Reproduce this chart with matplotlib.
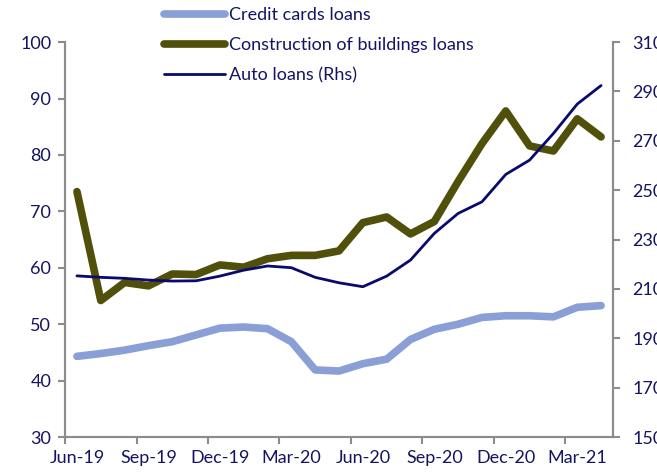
import matplotlib
matplotlib.use("Agg")
import matplotlib.pyplot as plt
import numpy as np

months = ["Jun-19", "Jul-19", "Aug-19", "Sep-19", "Oct-19", "Nov-19", "Dec-19",
          "Jan-20", "Feb-20", "Mar-20", "Apr-20", "May-20", "Jun-20", "Jul-20",
          "Aug-20", "Sep-20", "Oct-20", "Nov-20", "Dec-20", "Jan-21", "Feb-21",
          "Mar-21", "Apr-21"]

credit_cards = [44.3, 44.8, 45.4, 46.2, 46.9, 48.1, 49.3, 49.5, 49.2, 46.9, 41.9,
                41.7, 43.0, 43.8, 47.3, 49.1, 50.0, 51.2, 51.5, 51.5, 51.3, 53.0, 53.3]
construction = [73.5, 54.2, 57.4, 56.8, 58.9, 58.8, 60.5, 60.1, 61.6, 62.2, 62.2,
                63.0, 68.0, 69.0, 66.0, 68.2, 75.3, 82.0, 87.8, 81.6, 80.7, 86.4, 83.2]
auto_rhs = [215.3, 214.7, 214.3, 213.6, 213.2, 213.3, 215.2, 217.6, 219.3, 218.6,
            214.7, 212.5, 210.9, 215.2, 221.7, 232.5, 240.6, 245.3, 256.4, 262.2,
            273.0, 284.9, 292.4]

tick_labels = ["Jun-19", "Sep-19", "Dec-19", "Mar-20", "Jun-20", "Sep-20", "Dec-20", "Mar-21"]

plt.rcParams['font.family'] = ['Lato', 'DejaVu Sans']
txt = '#141464'
spine_c = '#8c8c8c'
fs = 13

fig = plt.figure(figsize=(6.57, 4.73), dpi=100)
ax = fig.add_axes([0.099, 0.076, 0.834, 0.835])
ax2 = ax.twinx()

x = np.arange(len(months))
l1, = ax.plot(x, credit_cards, color='#8a9fd6', lw=5.5, solid_capstyle='round',
              solid_joinstyle='round', label='Credit cards loans')
l2, = ax.plot(x, construction, color='#50500a', lw=5.5, solid_capstyle='round',
              solid_joinstyle='round', label='Construction of buildings loans')
l3, = ax2.plot(x, auto_rhs, color='#0a0a6e', lw=2, solid_capstyle='round',
               label='Auto loans (Rhs)')

ax.set_xlim(-0.5, len(months) - 0.5)
ax.set_ylim(30, 100)
ax.set_yticks(range(30, 101, 10))
ax2.set_ylim(150, 310)
ax2.set_yticks(range(150, 311, 20))

# labels centred on the month, tick marks on the boundaries
ax.set_xticks(np.arange(-0.5, len(months), 3))
ax.set_xticklabels([])
ax.set_xticks(np.arange(0, len(months), 3), minor=True)
ax.set_xticklabels(tick_labels, minor=True)
ax.tick_params(axis='x', which='minor', length=0, pad=9, labelsize=fs, labelcolor=txt)
ax.tick_params(axis='x', which='major', length=5, width=1.5, color=spine_c)

for a in (ax, ax2):
    a.spines['top'].set_visible(False)
    for s in ('left', 'right', 'bottom'):
        a.spines[s].set_color(spine_c)
        a.spines[s].set_linewidth(1.5)
ax.tick_params(axis='y', length=5, width=1.5, color=spine_c, labelsize=fs,
               labelcolor=txt, pad=5)
ax2.tick_params(axis='y', length=5, width=1.5, color=spine_c, labelsize=fs,
                labelcolor=txt, pad=9)

leg = fig.legend(handles=[l1, l2, l3], loc='upper left', bbox_to_anchor=(0.238, 1.0),
                 frameon=False, fontsize=fs, handlelength=3.4, handletextpad=0.25,
                 labelspacing=0.78, borderaxespad=0)
for t in leg.get_texts():
    t.set_color(txt)

fig.savefig('out.png', dpi=100)
